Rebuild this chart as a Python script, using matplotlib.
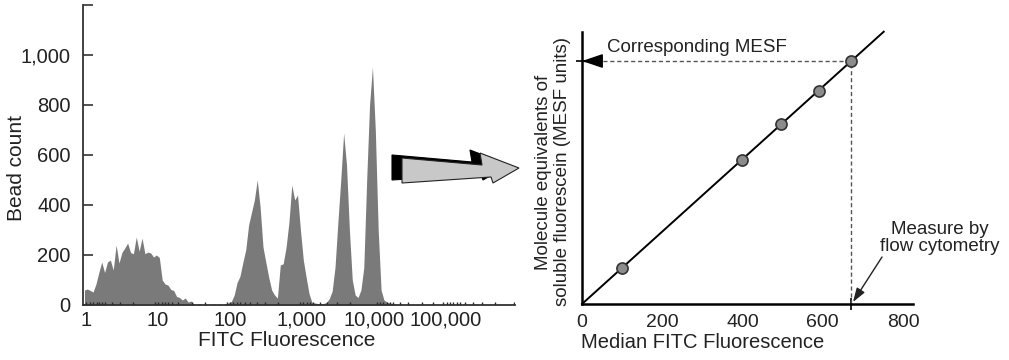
import numpy as np
import matplotlib
matplotlib.use("Agg")
import matplotlib.pyplot as plt
from matplotlib.patches import Polygon
from matplotlib.ticker import NullLocator

plt.rcParams['font.family'] = ['Liberation Sans', 'DejaVu Sans']

# ---- Bead histogram ----
# counts per channel; each channel spans 0.04 decade, first channel starts at 10^-0.04
channel_width_decades = 0.04
first_channel_log10 = -0.04
bead_counts = [
    60, 64, 58, 52, 84, 130, 172, 130, 172, 180,
    140, 240, 168, 210, 228, 248, 210, 205, 272, 215,
    268, 205, 212, 208, 192, 200, 190, 100, 84, 80,
    62, 58, 34, 30, 20, 28, 12, 16, 4, 0,
    6, 0, 4, 0, 0, 4, 0, 4, 0, 6,
    8, 14, 40, 90, 115, 170, 220, 320, 370, 420,
    500, 392, 232, 170, 110, 60, 40, 28, 160, 165,
    230, 330, 480, 420, 440, 300, 180, 110, 45, 10,
    8, 6, 4, 6, 10, 25, 55, 150, 330, 500,
    688, 560, 300, 100, 40, 30, 60, 150, 500, 800,
    952, 700, 300, 60, 20, 12, 8, 6, 4, 0,
    2, 0, 0, 3, 0, 0, 2, 0, 0, 0,
    3, 0, 0, 0, 2, 0, 0, 3, 0, 0,
    2, 0, 0, 0, 2, 0, 3, 0, 0, 0,
    2, 0, 0, 0, 0, 2, 0, 0, 0, 0,
]
# isolated single events drawn along the baseline (log10 fluorescence)
sparse_events_log10 = [
    0.00, 0.06, 0.10, 0.15, 0.18, 0.22, 0.26, 0.36, 0.47, 0.65,
    0.96, 1.00, 1.06, 1.10, 1.14, 1.19, 1.28, 1.47, 1.65, 1.96,
    2.00, 2.04, 2.10, 2.14, 2.21, 2.28, 2.38, 2.49, 2.67, 2.97,
    3.01, 3.07, 3.11, 3.15, 3.25, 3.35, 3.49, 3.67, 4.04, 4.08,
    4.13, 4.18, 4.22, 4.26, 4.36, 4.47, 4.67, 4.82, 4.96, 5.01,
    5.06, 5.10, 5.15, 5.19, 5.26, 5.38, 5.50, 5.68, 5.95,
]
hist_ticks = [1, 10, 100, 1000, 10000, 100000]
hist_tick_labels = ['1', '10', '100', '1,000', '10,000', '100,000']
count_ticks = [0, 200, 400, 600, 800, 1000, 1200]
count_tick_labels = ['0', '200', '400', '600', '800', '1,000', '']

# ---- Calibration curve ----
median_fitc = [100, 400, 495, 590, 670]
mesf_values = [100, 398, 495, 588, 670]
sample_fitc = 670
sample_mesf = 670
cal_ticks = [0, 200, 400, 600, 800]
cal_tick_labels = ['0', '200', '400', '600', '800']

W, H = 1009, 360
fig = plt.figure(figsize=(W / 100, H / 100), dpi=100)


def px_box(x0, y_top, x1, y_bottom):
    return [x0 / W, 1 - y_bottom / H, (x1 - x0) / W, (y_bottom - y_top) / H]


# ---------------- left panel: histogram ----------------
ax1 = fig.add_axes(px_box(83, 5, 515, 305))
counts = np.array(bead_counts, dtype=float)
centers = 10 ** (first_channel_log10 + (np.arange(len(counts)) + 0.5) * channel_width_decades)
ax1.fill_between(centers, 0, counts, color='#7a7a7a', lw=0, zorder=2)
ax1.vlines(10 ** np.array(sparse_events_log10), 0, 14, color='#2a2a2a', lw=1.0, zorder=3)

ax1.set_xscale('log')
ax1.set_xlim(10 ** -0.04, 10 ** 5.96)
ax1.set_ylim(0, 1200)
for s in ('top', 'right'):
    ax1.spines[s].set_visible(False)
for s in ('left', 'bottom'):
    ax1.spines[s].set_color('#333333')
    ax1.spines[s].set_linewidth(1.3)
ax1.set_xticks(hist_ticks)
ax1.set_xticklabels(hist_tick_labels)
ax1.xaxis.set_minor_locator(NullLocator())
ax1.set_yticks(count_ticks)
ax1.set_yticklabels(count_tick_labels)
ax1.tick_params(axis='x', length=0, pad=4, labelsize=14.5, colors='#222222')
ax1.tick_params(axis='y', direction='in', length=7, width=1.1, pad=9,
                labelsize=14.5, colors='#222222')
ax1.patch.set_alpha(0)

# ---------------- right panel: calibration ----------------
ax2 = fig.add_axes(px_box(582, 32, 913, 304))
ax2.set_xlim(0, 825)
ax2.set_ylim(0, 750)
slope = np.dot(median_fitc, mesf_values) / np.dot(median_fitc, median_fitc)
fit_x = np.array([0, 752])
ax2.plot(fit_x, slope * fit_x, color='black', lw=1.4, zorder=3, clip_on=False)
ax2.plot([0, sample_fitc], [sample_mesf, sample_mesf], color='#555555', lw=1.0,
         ls=(0, (3, 2)), zorder=2)
ax2.plot([sample_fitc, sample_fitc], [0, sample_mesf], color='#555555', lw=1.0,
         ls=(0, (3, 2)), zorder=2)
ax2.plot(median_fitc, mesf_values, 'o', ms=8, mfc='#8c8c8c', mec='#333333',
         mew=1.2, zorder=4)
ax2.annotate('', xy=(0, sample_mesf), xytext=(45, sample_mesf),
             arrowprops=dict(arrowstyle='-|>,head_length=0.65,head_width=0.22',
                             color='black', lw=1, shrinkA=0, shrinkB=0,
                             mutation_scale=20), zorder=5)
for s in ('top', 'right'):
    ax2.spines[s].set_visible(False)
for s in ('left', 'bottom'):
    ax2.spines[s].set_color('black')
    ax2.spines[s].set_linewidth(1.8)
ax2.set_xticks(cal_ticks)
ax2.set_xticklabels(cal_tick_labels)
ax2.set_yticks([])
ax2.set_xticks([sample_fitc], minor=True)
ax2.set_yticks([sample_mesf], minor=True)
ax2.tick_params(axis='x', which='major', length=0, pad=7, labelsize=14, colors='#222222')
ax2.tick_params(which='minor', length=9, width=1.2, direction='inout', color='black')
ax2.patch.set_alpha(0)

# ---------------- overlay in pixel coordinates for labels and the big arrow ----------------
ov = fig.add_axes([0, 0, 1, 1])
ov.set_xlim(0, W)
ov.set_ylim(H, 0)
ov.axis('off')
ov.patch.set_alpha(0)

ov.text(287, 341, 'FITC Fluorescence', ha='center', va='center', fontsize=15, color='#222222')
ov.text(17, 168, 'Bead count', ha='center', va='center', rotation=90, fontsize=15, color='#222222')
ov.text(703, 343, 'Median FITC Fluorescence', ha='center', va='center', fontsize=14.5,
        color='#222222')
ov.text(553, 172, 'Molecule equivalents of\nsoluble fluorescein (MESF units)', ha='center',
        va='center', rotation=90, fontsize=13.5, linespacing=1.1, color='#222222')
ov.text(607, 47, 'Corresponding MESF', ha='left', va='center', fontsize=13.5, color='#222222')
ov.text(940, 238, 'Measure by\nflow cytometry', ha='center', va='center', fontsize=13.5,
        linespacing=1.05, color='#222222')
ov.annotate('', xy=(853, 302), xytext=(882, 257),
            arrowprops=dict(arrowstyle='-|>,head_length=0.6,head_width=0.2', color='#222222',
                            lw=1, shrinkA=0, shrinkB=0, mutation_scale=14))

arrow_pts = np.array([(402, 158), (482, 165), (480, 153), (519, 168),
                      (493, 183), (491, 177), (402, 183)], dtype=float)
ov.add_patch(Polygon(arrow_pts + np.array([-10, -3]), closed=True, facecolor='black',
                     edgecolor='black', lw=0.8))
ov.add_patch(Polygon(arrow_pts, closed=True, facecolor='#c8c8c8', edgecolor='#222222', lw=0.8))

fig.savefig('out.png', dpi=100)
